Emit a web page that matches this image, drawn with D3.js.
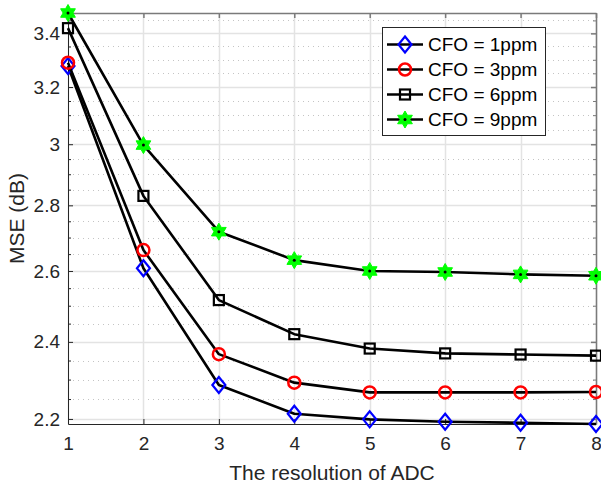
<!DOCTYPE html>
<html>
<head>
<meta charset="utf-8">
<script src="https://cdn.jsdelivr.net/npm/d3@7"></script>
<style>
  body { margin: 0; background: #fff; }
  svg { display: block; font-family: "Liberation Sans", Arial, sans-serif; }
</style>
</head>
<body>
<svg id="chart" width="601" height="486"></svg>
<script>
// chart values
const bits = [1, 2, 3, 4, 5, 6, 7, 8];
const cfo1 = [3.277, 2.608, 2.286, 2.213, 2.199, 2.193, 2.1905, 2.1875];
const cfo3 = [3.289, 2.662, 2.367, 2.292, 2.267, 2.267, 2.267, 2.268];
const cfo6 = [3.420, 2.830, 2.516, 2.421, 2.382, 2.369, 2.366, 2.363];
const cfo9 = [3.479, 2.997, 2.718, 2.632, 2.600, 2.597, 2.590, 2.586];
const seriesNames = ['CFO = 1ppm', 'CFO = 3ppm', 'CFO = 6ppm', 'CFO = 9ppm'];
const yMajor = [2.2, 2.4, 2.6, 2.8, 3, 3.2, 3.4];
const yMinor = [2.25, 2.3, 2.35, 2.45, 2.5, 2.55, 2.65, 2.7, 2.75, 2.85, 2.9, 2.95,
                3.05, 3.1, 3.15, 3.25, 3.3, 3.35, 3.45];

const svg = d3.select('#chart');
const plotL = 68, plotR = 596, plotT = 13, plotB = 424;
const axisColor = '#262626';

const series = [
  { name: seriesNames[0], values: cfo1, marker: 'diamond', color: '#0000ff' },
  { name: seriesNames[1], values: cfo3, marker: 'circle', color: '#ff0000' },
  { name: seriesNames[2], values: cfo6, marker: 'square', color: '#000000' },
  { name: seriesNames[3], values: cfo9, marker: 'hexagram', color: '#00ff00' }
];

const x = d3.scaleLinear().domain(d3.extent(bits)).range([plotL, plotR]);
const y = d3.scaleLog()
  .domain(d3.extent([].concat(cfo1, cfo3, cfo6, cfo9)))
  .range([plotB, plotT]);

// grid
const grid = svg.append('g');
grid.selectAll('.minor').data(yMinor).join('line')
  .attr('x1', plotL).attr('x2', plotR)
  .attr('y1', d => Math.round(y(d)) + 0.5).attr('y2', d => Math.round(y(d)) + 0.5)
  .attr('stroke', '#c4c4c4').attr('stroke-width', 1).attr('stroke-dasharray', '1,4');
grid.selectAll('.majy').data(yMajor).join('line')
  .attr('x1', plotL).attr('x2', plotR)
  .attr('y1', d => Math.round(y(d)) + 0.5).attr('y2', d => Math.round(y(d)) + 0.5)
  .attr('stroke', '#e3e3e3').attr('stroke-width', 1.5);
grid.selectAll('.majx').data(bits).join('line')
  .attr('y1', plotT).attr('y2', plotB)
  .attr('x1', d => Math.round(x(d)) + 0.5).attr('x2', d => Math.round(x(d)) + 0.5)
  .attr('stroke', '#e3e3e3').attr('stroke-width', 1.5);

// axes (ticks point inwards)
function styleAxis(g) {
  g.select('.domain').attr('stroke', axisColor);
  g.selectAll('.tick line').attr('stroke', axisColor);
  g.selectAll('.tick text').attr('fill', axisColor).style('font-size', '19px');
}

svg.append('g')
  .attr('transform', `translate(0,${plotB})`)
  .call(d3.axisBottom(x).tickValues(bits).tickFormat(d3.format('d'))
    .tickSizeInner(-5).tickSizeOuter(0).tickPadding(13))
  .call(styleAxis);

svg.append('g')
  .attr('transform', `translate(${plotL},0)`)
  .call(d3.axisLeft(y).tickValues(yMajor).tickFormat(d3.format('~g'))
    .tickSizeInner(-5).tickSizeOuter(0).tickPadding(8))
  .call(styleAxis);

svg.append('g')
  .attr('transform', `translate(${plotL},0)`)
  .call(d3.axisLeft(y).tickValues(yMinor).tickFormat('').tickSizeInner(-3).tickSizeOuter(0))
  .call(g => g.select('.domain').remove())
  .call(g => g.selectAll('.tick line').attr('stroke', axisColor));

// top and right edges of the box
svg.append('g')
  .attr('transform', `translate(0,${plotT})`)
  .call(d3.axisTop(x).tickValues(bits).tickFormat('').tickSizeInner(-5).tickSizeOuter(0))
  .call(g => g.selectAll('path,line').attr('stroke', '#7a7a7a').attr('stroke-width', 1.5));

svg.append('g')
  .attr('transform', `translate(${plotR},0)`)
  .call(d3.axisRight(y).tickValues(yMajor).tickFormat('').tickSizeInner(-5).tickSizeOuter(0))
  .call(g => g.selectAll('path,line').attr('stroke', '#7a7a7a').attr('stroke-width', 1.5));

svg.append('g')
  .attr('transform', `translate(${plotR},0)`)
  .call(d3.axisRight(y).tickValues(yMinor).tickFormat('').tickSizeInner(-3).tickSizeOuter(0))
  .call(g => g.select('.domain').remove())
  .call(g => g.selectAll('.tick line').attr('stroke', '#7a7a7a'));

// axis titles
svg.append('text')
  .attr('x', (plotL + plotR) / 2).attr('y', 480)
  .attr('text-anchor', 'middle').attr('fill', axisColor)
  .style('font-size', '21px')
  .text('The resolution of ADC');

svg.append('text')
  .attr('transform', `translate(24,${(plotT + plotB) / 2}) rotate(-90)`)
  .attr('text-anchor', 'middle').attr('fill', axisColor)
  .style('font-size', '21px')
  .text('MSE (dB)');

// markers
function hexagram(r) {
  const pts = [];
  for (let i = 0; i < 12; i++) {
    const a = -Math.PI / 2 + i * Math.PI / 6;
    const rr = i % 2 === 0 ? r : r / Math.sqrt(3);
    pts.push([rr * Math.cos(a), rr * Math.sin(a)]);
  }
  return 'M' + pts.map(p => p.join(',')).join('L') + 'Z';
}

function drawMarker(g, s, cx, cy) {
  const m = g.append('g').attr('transform', `translate(${cx},${cy})`);
  if (s.marker === 'diamond') {
    m.append('path').attr('d', 'M0,-8L6.5,0L0,8L-6.5,0Z')
      .attr('fill', 'none').attr('stroke', s.color).attr('stroke-width', 2.2);
  } else if (s.marker === 'circle') {
    m.append('circle').attr('r', 6)
      .attr('fill', 'none').attr('stroke', s.color).attr('stroke-width', 2.5);
  } else if (s.marker === 'square') {
    m.append('rect').attr('x', -5).attr('y', -5).attr('width', 10).attr('height', 10)
      .attr('fill', 'none').attr('stroke', s.color).attr('stroke-width', 2.2);
  } else {
    m.append('path').attr('d', hexagram(8.5))
      .attr('fill', s.color).attr('stroke', s.color).attr('stroke-width', 1);
    m.append('circle').attr('r', 1.5).attr('fill', '#000');
  }
}

const line = d3.line().x((d, i) => x(bits[i])).y(d => y(d));
const plot = svg.append('g');
series.forEach(s => {
  plot.append('path').datum(s.values)
    .attr('d', line)
    .attr('fill', 'none').attr('stroke', '#000').attr('stroke-width', 2.6)
    .attr('stroke-linejoin', 'round');
  s.values.forEach((v, i) => drawMarker(plot, s, x(bits[i]), y(v)));
});

// legend
const lg = svg.append('g');
lg.append('rect')
  .attr('x', 382.5).attr('y', 27.5).attr('width', 163).attr('height', 108)
  .attr('fill', '#fff').attr('stroke', axisColor).attr('stroke-width', 1);
series.forEach((s, i) => {
  const cy = 44.5 + i * 25;
  lg.append('line').attr('x1', 387).attr('x2', 423).attr('y1', cy).attr('y2', cy)
    .attr('stroke', '#000').attr('stroke-width', 2.6);
  drawMarker(lg, s, 405, cy);
  lg.append('text').attr('x', 428).attr('y', cy).attr('dy', '0.35em')
    .attr('fill', '#000').style('font-size', '19px')
    .text(s.name);
});
</script>
</body>
</html>
